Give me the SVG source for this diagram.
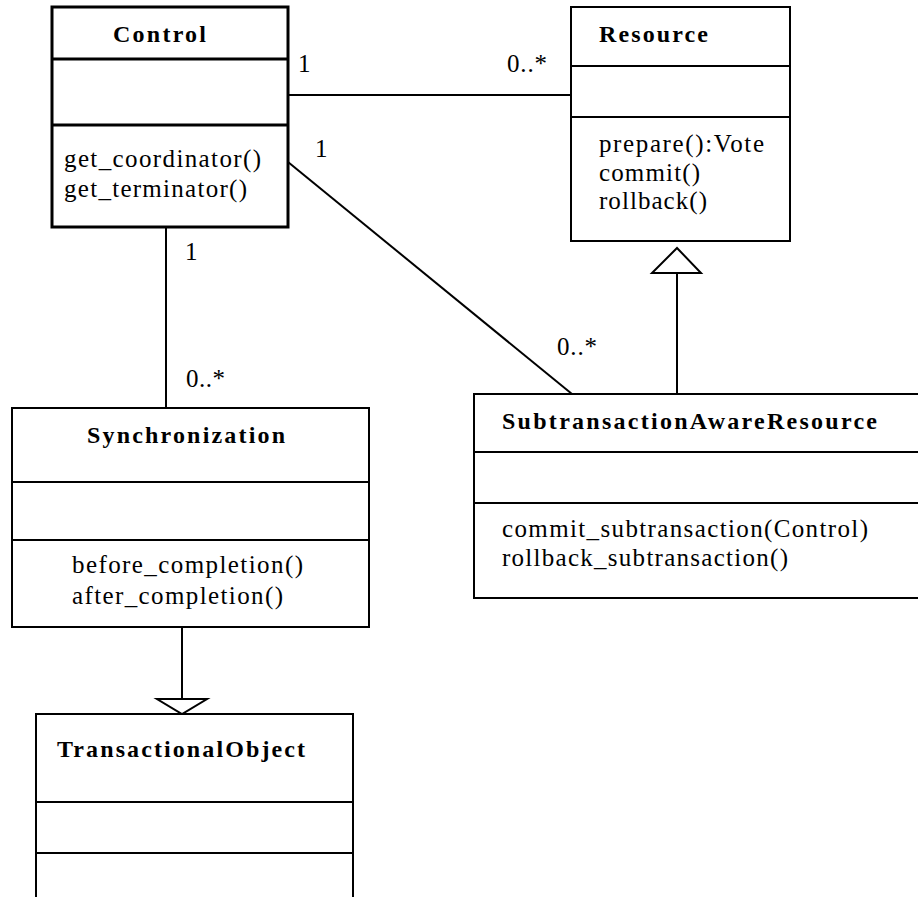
<svg xmlns="http://www.w3.org/2000/svg" width="918" height="897" viewBox="0 0 918 897">
<style>
.box{fill:#fff;stroke:#000;stroke-width:2}
.boxb{fill:#fff;stroke:#000;stroke-width:3}
.div{stroke:#000;stroke-width:2}
.divb{stroke:#000;stroke-width:3}
.ln{stroke:#000;stroke-width:2;fill:none}
.tri{fill:#fff;stroke:#000;stroke-width:2}
text{font-family:'Liberation Serif','Times New Roman',Times,serif;font-size:25px;fill:#000}
.b{font-weight:bold;font-size:24px}
</style>
<rect width="918" height="897" fill="#fff"/>
<g id="connectors">
<line class="ln" x1="288" y1="95" x2="571" y2="95"/>
<line class="ln" x1="288" y1="162" x2="572" y2="394"/>
<line class="ln" x1="166" y1="227" x2="166" y2="408"/>
<line class="ln" x1="677" y1="273" x2="677" y2="394"/>
<polygon class="tri" points="677,248 652,273 701,273"/>
<line class="ln" x1="182" y1="627" x2="182" y2="699"/>
<polygon class="tri" points="157,699 207,699 182,714"/>
<text x="298" y="72">1</text>
<text x="507" y="72" textLength="40" lengthAdjust="spacing">0..*</text>
<text x="315" y="157">1</text>
<text x="557" y="355" textLength="40" lengthAdjust="spacing">0..*</text>
<text x="185" y="260">1</text>
<text x="186" y="387" textLength="39" lengthAdjust="spacing">0..*</text>
</g>
<g id="Control">
<rect class="boxb" x="52" y="7" width="236" height="220"/>
<line class="divb" x1="52" y1="59" x2="288" y2="59"/>
<line class="divb" x1="52" y1="125" x2="288" y2="125"/>
<text class="b" x="113" y="42" textLength="93" lengthAdjust="spacing">Control</text>
<text x="64" y="167" textLength="197" lengthAdjust="spacing">get_coordinator()</text>
<text x="64" y="197" textLength="183" lengthAdjust="spacing">get_terminator()</text>
</g>
<g id="Resource">
<rect class="box" x="571" y="7" width="219" height="234"/>
<line class="div" x1="571" y1="66" x2="790" y2="66"/>
<line class="div" x1="571" y1="117" x2="790" y2="117"/>
<text class="b" x="599" y="42" textLength="109" lengthAdjust="spacing">Resource</text>
<text x="599" y="152" textLength="165" lengthAdjust="spacing">prepare():Vote</text>
<text x="599" y="181" textLength="101" lengthAdjust="spacing">commit()</text>
<text x="599" y="209" textLength="108" lengthAdjust="spacing">rollback()</text>
</g>
<g id="SubtransactionAwareResource">
<rect class="box" x="474" y="394" width="460" height="204"/>
<line class="div" x1="474" y1="452" x2="918" y2="452"/>
<line class="div" x1="474" y1="503" x2="918" y2="503"/>
<text class="b" x="502" y="429" textLength="375" lengthAdjust="spacing">SubtransactionAwareResource</text>
<text x="502" y="537" textLength="366" lengthAdjust="spacing">commit_subtransaction(Control)</text>
<text x="502" y="566" textLength="286" lengthAdjust="spacing">rollback_subtransaction()</text>
</g>
<g id="Synchronization">
<rect class="box" x="12" y="408" width="357" height="219"/>
<line class="div" x1="12" y1="482" x2="369" y2="482"/>
<line class="div" x1="12" y1="540" x2="369" y2="540"/>
<text class="b" x="87" y="443" textLength="198" lengthAdjust="spacing">Synchronization</text>
<text x="72" y="573" textLength="231" lengthAdjust="spacing">before_completion()</text>
<text x="72" y="604" textLength="211" lengthAdjust="spacing">after_completion()</text>
</g>
<g id="TransactionalObject">
<rect class="box" x="36" y="714" width="317" height="200"/>
<line class="div" x1="36" y1="802" x2="353" y2="802"/>
<line class="div" x1="36" y1="853" x2="353" y2="853"/>
<text class="b" x="57" y="757" textLength="248" lengthAdjust="spacing">TransactionalObject</text>
</g>
</svg>
